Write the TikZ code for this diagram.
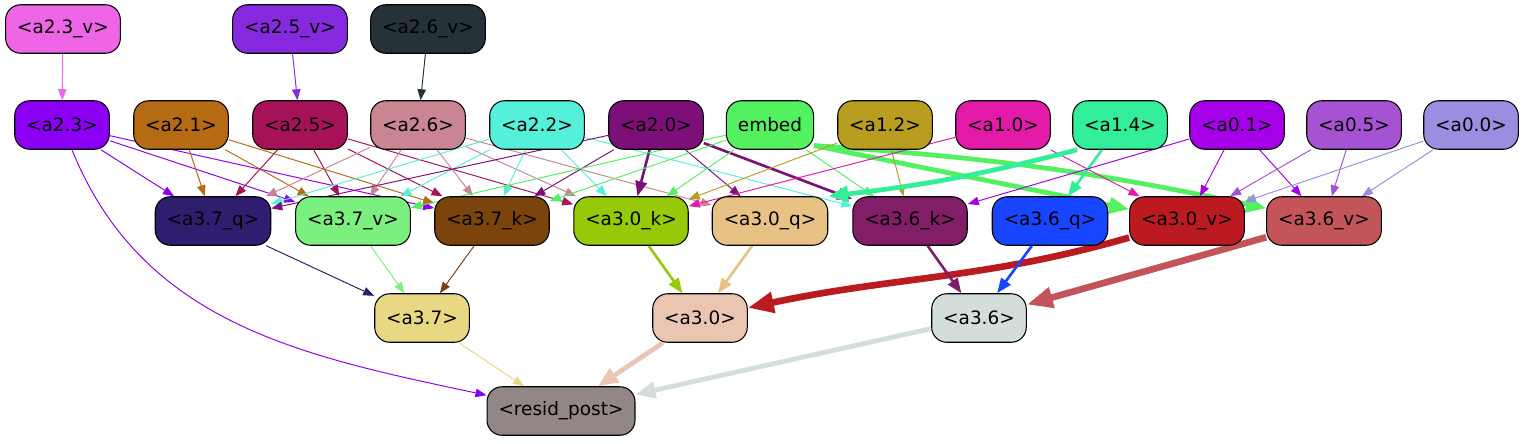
\documentclass[tikz,border=0pt]{standalone}
\usepackage{fontspec}
\setmainfont{DejaVu Sans}
\usepackage{tikz}
\usetikzlibrary{arrows.meta}
\pgfdeclarelayer{edges}
\pgfsetlayers{edges,main}
\definecolor{c23v}{HTML}{EE66E6}
\definecolor{c25v}{HTML}{8629DF}
\definecolor{c26v}{HTML}{253237}
\definecolor{c23}{HTML}{8B00F3}
\definecolor{c21}{HTML}{B56A14}
\definecolor{c25}{HTML}{A61257}
\definecolor{c26}{HTML}{C98591}
\definecolor{c22}{HTML}{55F0D9}
\definecolor{c20}{HTML}{7D0F79}
\definecolor{cemb}{HTML}{53F160}
\definecolor{c12}{HTML}{B99D20}
\definecolor{c10}{HTML}{E21AA7}
\definecolor{c14}{HTML}{33EE98}
\definecolor{c01}{HTML}{A500E8}
\definecolor{c05}{HTML}{A553D2}
\definecolor{c00}{HTML}{9A8EE0}
\definecolor{c37q}{HTML}{2F1D6F}
\definecolor{c37v}{HTML}{7BF07F}
\definecolor{c37k}{HTML}{7A440C}
\definecolor{c30k}{HTML}{96C908}
\definecolor{c30q}{HTML}{E8C185}
\definecolor{c36k}{HTML}{821D68}
\definecolor{c36q}{HTML}{1845FF}
\definecolor{c30v}{HTML}{BB1B20}
\definecolor{c36v}{HTML}{C3555A}
\definecolor{c37}{HTML}{E8D883}
\definecolor{c30}{HTML}{EAC5B2}
\definecolor{c36}{HTML}{D3DEDB}
\definecolor{cres}{HTML}{928686}
\tikzset{
  every picture/.style={line join=round, >=Stealth},
  nd/.style={draw=black, line width=0.6pt, rounded corners=0.3cm, minimum height=0.97cm, inner xsep=0.23cm, inner ysep=0pt, text=black, font=\fontsize{10.5}{12}\selectfont},
  e1/.style={-{Triangle[length=0.22cm,width=0.17cm]}, line width=0.55pt},
  e2/.style={-{Triangle[length=0.3cm,width=0.23cm]}, line width=1.5pt},
  e3/.style={-{Triangle[length=0.4cm,width=0.32cm]}, line width=2.7pt},
  e4/.style={-{Triangle[length=0.52cm,width=0.4cm]}, line width=3.8pt},
}

\begin{document}
\begin{tikzpicture}[x=0.02cm,y=0.02cm]
\useasboundingbox (0,0) rectangle (1531,-443);
\node[nd,fill=c23v] (a23v) at (63,-29) {<a2.3\_v>};
\node[nd,fill=c25v] (a25v) at (290,-29) {<a2.5\_v>};
\node[nd,fill=c26v] (a26v) at (428,-29) {<a2.6\_v>};
\node[nd,fill=c23] (a23) at (62,-125) {<a2.3>};
\node[nd,fill=c21] (a21) at (181,-125) {<a2.1>};
\node[nd,fill=c25] (a25) at (300,-125) {<a2.5>};
\node[nd,fill=c26] (a26) at (418,-125) {<a2.6>};
\node[nd,fill=c22] (a22) at (537,-125) {<a2.2>};
\node[nd,fill=c20] (a20) at (656,-125) {<a2.0>};
\node[nd,fill=cemb] (embed) at (770,-125) {embed};
\node[nd,fill=c12] (a12) at (885,-125) {<a1.2>};
\node[nd,fill=c10] (a10) at (1003,-125) {<a1.0>};
\node[nd,fill=c14] (a14) at (1120,-125) {<a1.4>};
\node[nd,fill=c01] (a01) at (1237,-125) {<a0.1>};
\node[nd,fill=c05] (a05) at (1354,-125) {<a0.5>};
\node[nd,fill=c00] (a00) at (1471,-125) {<a0.0>};
\node[nd,fill=c37q] (a37q) at (213,-221) {<a3.7\_q>};
\node[nd,fill=c37v] (a37v) at (353,-221) {<a3.7\_v>};
\node[nd,fill=c37k] (a37k) at (492,-221) {<a3.7\_k>};
\node[nd,fill=c30k] (a30k) at (631,-221) {<a3.0\_k>};
\node[nd,fill=c30q] (a30q) at (770,-221) {<a3.0\_q>};
\node[nd,fill=c36k] (a36k) at (910,-221) {<a3.6\_k>};
\node[nd,fill=c36q] (a36q) at (1050,-221) {<a3.6\_q>};
\node[nd,fill=c30v] (a30v) at (1187,-221) {<a3.0\_v>};
\node[nd,fill=c36v] (a36v) at (1324,-221) {<a3.6\_v>};
\node[nd,fill=c37] (a37) at (422,-318) {<a3.7>};
\node[nd,fill=c30] (a30) at (700,-318) {<a3.0>};
\node[nd,fill=c36] (a36) at (979,-318) {<a3.6>};
\node[nd,fill=cres] (resid) at (561,-411) {<resid\_post>};
\begin{pgfonlayer}{edges}
\draw[e1,c23v] (a23v) -- (a23);
\draw[e1,c25v] (a25v) -- (a25);
\draw[e1,c26v] (a26v) -- (a26);
\foreach \t in {a37q,a37v,a37k} \draw[e1,c23] (a23) -- (\t);
\draw[e1,c23] (a23) to[out=-68,in=168] (resid);
\foreach \t in {a37q,a37v,a37k} \draw[e1,c21] (a21) -- (\t);
\foreach \t in {a37q,a37v,a37k,a30k} \draw[e1,c25] (a25) -- (\t);
\foreach \t in {a37q,a37v,a37k,a30k,a30q} \draw[e1,c26] (a26) -- (\t);
\foreach \t in {a37q,a37v,a37k,a30k,a36k} \draw[e1,c22] (a22) -- (\t);
\foreach \t in {a37q,a37k,a30q} \draw[e1,c20] (a20) -- (\t);
\draw[e2,c20] (a20) -- (a30k);
\draw[e2,c20] (a20) -- (a36k);
\foreach \t in {a37v,a37k,a30k,a36k} \draw[e1,cemb] (embed) -- (\t);
\draw[e3,cemb] (embed.-25) -- (a30v);
\draw[e3,cemb] (embed.-25) to[bend left=4] (a36v);
\foreach \t in {a30k,a36k} \draw[e1,c12] (a12) -- (\t);
\foreach \t in {a30k,a30v} \draw[e1,c10] (a10) -- (\t);
\draw[e3,c14] (a14.-150) to[bend left=4] (a30q.north east);
\draw[e2,c14] (a14) -- (a36q);
\foreach \t in {a36k,a30v,a36v} \draw[e1,c01] (a01) -- (\t);
\foreach \t in {a30v,a36v} \draw[e1,c05] (a05) -- (\t);
\foreach \t in {a30v,a36v} \draw[e1,c00] (a00) -- (\t);
\draw[e1,c37q] (a37q) -- (a37);
\draw[e1,c37v] (a37v) -- (a37);
\draw[e1,c37k] (a37k) -- (a37);
\draw[e2,c30k] (a30k) -- (a30);
\draw[e2,c30q] (a30q) -- (a30);
\draw[e4,c30v] (a30v) to[out=196,in=12] (a30);
\draw[e2,c36k] (a36k) -- (a36);
\draw[e2,c36q] (a36q) -- (a36);
\draw[e4,c36v] (a36v) -- (a36);
\draw[e1,c37] (a37) -- (resid);
\draw[e3,c30] (a30) -- (resid);
\draw[e3,c36] (a36) -- (resid);
\end{pgfonlayer}
\end{tikzpicture}
\end{document}
